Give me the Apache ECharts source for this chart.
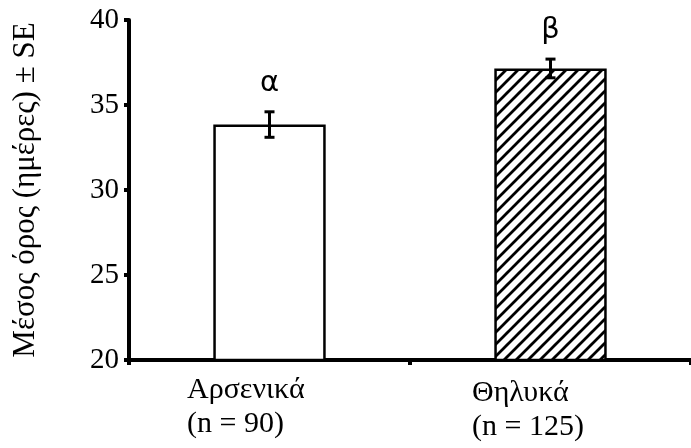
<!DOCTYPE html>
<html><head><meta charset="utf-8">
<script src="https://cdn.jsdelivr.net/npm/echarts@6/dist/echarts.min.js"></script>
<style>html,body{margin:0;padding:0;background:#fff}#c{width:691px;height:448px}</style>
</head><body><div id="c"></div>
<script>
const categories = ['Αρσενικά', 'Θηλυκά'];
const sampleSizes = ['(n = 90)', '(n = 125)'];
const means = [33.85, 37.15];
const se = [0.75, 0.55];
const letters = ['α', 'β'];
const yTicks = [20, 25, 30, 35, 40];

// hatch pattern
const pc = document.createElement('canvas');
const s = 12;
pc.width = s; pc.height = s;
const g = pc.getContext('2d');
g.fillStyle = '#fff'; g.fillRect(0, 0, s, s);
g.strokeStyle = '#000'; g.lineWidth = 2.8;
g.beginPath();
g.moveTo(-s, s); g.lineTo(s, -s);
g.moveTo(0, s * 2); g.lineTo(s * 2, 0);
g.moveTo(0, s); g.lineTo(s, 0);
g.stroke();

const labelFont = { fontFamily: 'Liberation Serif', fontSize: 30, color: '#000', lineHeight: 34, align: 'left' };

const chart = echarts.init(document.getElementById('c'));
chart.setOption({
  animation: false,
  grid: { left: 129, right: 0, top: 20, bottom: 88 },
  xAxis: {
    type: 'category',
    data: categories,
    axisLine: { lineStyle: { color: '#000', width: 4 } },
    axisTick: { show: true, length: 5, lineStyle: { color: '#000', width: 4 } },
    axisLabel: {
      margin: 13,
      interval: 0,
      formatter: (v, i) => i === 0
        ? '{a|' + v + '}\n{a|' + sampleSizes[i] + '}'
        : '{b|' + v + '}\n{b|' + sampleSizes[i] + '}',
      rich: {
        a: Object.assign({}, labelFont, { width: 165 }),
        b: Object.assign({}, labelFont, { width: 157, padding: [6, 0, 0, 0] })
      }
    }
  },
  yAxis: {
    type: 'value', min: yTicks[0], max: yTicks[yTicks.length - 1], interval: 5,
    name: 'Μέσος όρος (ημέρες) ± SE',
    nameLocation: 'middle',
    nameGap: 88,
    nameTextStyle: { fontFamily: 'Liberation Serif', fontSize: 31, color: '#000' },
    splitLine: { show: false },
    axisLine: { show: true, lineStyle: { color: '#000', width: 4 } },
    axisTick: { show: true, length: 5, lineStyle: { color: '#000', width: 4 } },
    axisLabel: { margin: 10, fontFamily: 'Liberation Serif', fontSize: 29, color: '#000' }
  },
  series: [
    {
      type: 'bar',
      barWidth: '40%',
      data: means.map((v, i) => ({
        value: v,
        itemStyle: i === 0
          ? { color: '#fff', borderColor: '#000', borderWidth: 2.5 }
          : { color: { image: pc, repeat: 'repeat' }, borderColor: '#000', borderWidth: 2.5 }
      }))
    },
    {
      type: 'custom',
      data: means.map((m, i) => [i, m - se[i], m + se[i]]),
      renderItem: (params, api) => {
        const x = api.value(0);
        const lo = api.coord([x, api.value(1)]);
        const hi = api.coord([x, api.value(2)]);
        const w = 5;
        const st = { stroke: '#000', lineWidth: 3 };
        return {
          type: 'group',
          children: [
            { type: 'line', shape: { x1: lo[0], y1: lo[1], x2: hi[0], y2: hi[1] }, style: st },
            { type: 'line', shape: { x1: lo[0] - w, y1: lo[1], x2: lo[0] + w, y2: lo[1] }, style: st },
            { type: 'line', shape: { x1: hi[0] - w, y1: hi[1], x2: hi[0] + w, y2: hi[1] }, style: st },
            { type: 'text', x: hi[0], y: hi[1] - 14, style: { text: letters[params.dataIndex], fontFamily: 'DejaVu Sans', fontSize: 29, fill: '#000', align: 'center', verticalAlign: 'bottom' } }
          ]
        };
      },
      z: 10
    }
  ]
});
</script></body></html>
